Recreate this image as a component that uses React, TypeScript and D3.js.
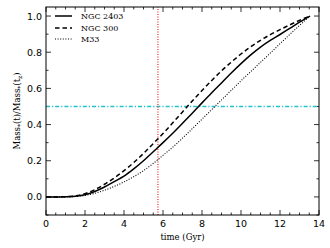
import React, { useEffect, useRef } from "react";
import * as d3 from "d3";

// time grid (Gyr)
const times = [0, 0.5, 1, 1.5, 2, 2.5, 3, 3.5, 4, 4.5, 5, 5.5, 6, 6.5, 7, 7.5, 8, 8.5, 9, 9.5, 10, 10.5, 11, 11.5, 12, 12.5, 13, 13.54];

const ngc2403 = [0, 0, 0.001, 0.004, 0.012, 0.03, 0.055, 0.085, 0.115, 0.155, 0.2, 0.25, 0.3, 0.352, 0.407, 0.463, 0.52, 0.576, 0.63, 0.685, 0.737, 0.785, 0.828, 0.865, 0.898, 0.932, 0.966, 1.0];
const ngc300 = [0, 0, 0.001, 0.006, 0.018, 0.04, 0.07, 0.105, 0.145, 0.19, 0.24, 0.295, 0.35, 0.41, 0.47, 0.53, 0.588, 0.644, 0.697, 0.745, 0.79, 0.83, 0.866, 0.897, 0.925, 0.951, 0.976, 1.0];
const m33 = [0, 0, 0, 0.002, 0.008, 0.02, 0.037, 0.058, 0.083, 0.112, 0.145, 0.185, 0.23, 0.275, 0.325, 0.377, 0.43, 0.483, 0.536, 0.589, 0.642, 0.693, 0.744, 0.795, 0.847, 0.898, 0.948, 1.0];

const seriesNames = ["NGC 2403", "NGC 300", "M33"];
const seriesDash = ["none", "4.5,3", "1,1.6"];

const xTicks = [0, 2, 4, 6, 8, 10, 12, 14];
const yTicks = [0.0, 0.2, 0.4, 0.6, 0.8, 1.0];

const tRed = 5.74;
const halfMass = 0.5;

export default function App() {
  const svgRef = useRef<SVGSVGElement>(null);

  useEffect(() => {
    if (!svgRef.current) return;
    const svg = d3.select(svgRef.current);
    svg.selectAll("*").remove();

    const margin = { top: 7, right: 11, bottom: 33, left: 46 };
    const width = 330;
    const height = 248;

    const x = d3.scaleLinear().domain([0, 14]).range([margin.left, width - margin.right]);
    const y = d3.scaleLinear().domain([-0.1, 1.05]).range([height - margin.bottom, margin.top]);

    const [x0, x1] = x.range();
    const [y0, y1] = y.range(); // y0 bottom, y1 top

    // minor / major ticks, inward on all sides
    const g = svg.append("g").attr("stroke", "#000").attr("stroke-width", 0.8);
    const xMinor = d3.range(0, 14.01, 0.5);
    const yMinor = d3.range(-0.1, 1.051, 0.1);
    xMinor.forEach((t) => {
      const major = Math.abs(t / 2 - Math.round(t / 2)) < 1e-6;
      const len = major ? 5 : 2.5;
      g.append("line").attr("x1", x(t)).attr("x2", x(t)).attr("y1", y0).attr("y2", y0 - len);
      g.append("line").attr("x1", x(t)).attr("x2", x(t)).attr("y1", y1).attr("y2", y1 + len);
    });
    yMinor.forEach((v) => {
      const major = Math.abs(v / 0.2 - Math.round(v / 0.2)) < 1e-6;
      const len = major ? 5 : 2.5;
      g.append("line").attr("x1", x0).attr("x2", x0 + len).attr("y1", y(v)).attr("y2", y(v));
      g.append("line").attr("x1", x1).attr("x2", x1 - len).attr("y1", y(v)).attr("y2", y(v));
    });

    // tick labels
    svg.append("g")
      .selectAll("text")
      .data(xTicks)
      .join("text")
      .attr("x", (d) => x(d))
      .attr("y", y0 + 12)
      .attr("text-anchor", "middle")
      .attr("font-family", "DejaVu Sans")
      .attr("font-size", 9.5)
      .text((d) => String(d));

    svg.append("g")
      .selectAll("text")
      .data(yTicks)
      .join("text")
      .attr("x", x0 - 4)
      .attr("y", (d) => y(d) + 3.5)
      .attr("text-anchor", "end")
      .attr("font-family", "DejaVu Sans")
      .attr("font-size", 9.5)
      .text((d) => d.toFixed(1));

    // axis labels
    svg.append("text")
      .attr("x", (x0 + x1) / 2)
      .attr("y", height - 8)
      .attr("text-anchor", "middle")
      .attr("font-family", "DejaVu Serif")
      .attr("font-size", 8.5)
      .text("time (Gyr)");

    const yl = svg.append("text")
      .attr("transform", `translate(20,${(y0 + y1) / 2}) rotate(-90)`)
      .attr("text-anchor", "middle")
      .attr("font-family", "DejaVu Serif")
      .attr("font-size", 8.5);
    yl.append("tspan").text("Mass");
    yl.append("tspan").attr("font-size", 6).attr("dy", 2).text("*");
    yl.append("tspan").attr("dy", -2).text("(t)/Mass");
    yl.append("tspan").attr("font-size", 6).attr("dy", 2).text("*");
    yl.append("tspan").attr("dy", -2).text("(t");
    yl.append("tspan").attr("font-size", 6).attr("dy", 2).text("z");
    yl.append("tspan").attr("dy", -2).text(")");

    // reference lines
    svg.append("line")
      .attr("x1", x0).attr("x2", x1)
      .attr("y1", y(halfMass)).attr("y2", y(halfMass))
      .attr("stroke", "#22c4cc")
      .attr("stroke-width", 1.3)
      .attr("stroke-dasharray", "4,2,1.2,2");

    svg.append("line")
      .attr("x1", x(tRed)).attr("x2", x(tRed))
      .attr("y1", y0).attr("y2", y1)
      .attr("stroke", "#ee1111")
      .attr("stroke-width", 1.1)
      .attr("stroke-dasharray", "1,1.5");

    // curves
    const all = [ngc2403, ngc300, m33];
    const line = d3.line<number>()
      .x((_, i) => x(times[i]))
      .y((d) => y(d))
      .curve(d3.curveMonotoneX);

    all.forEach((vals, i) => {
      svg.append("path")
        .datum(vals)
        .attr("fill", "none")
        .attr("stroke", "#000")
        .attr("stroke-width", i === 2 ? 1.1 : 1.5)
        .attr("stroke-dasharray", seriesDash[i])
        .attr("d", line);
    });

    // legend
    const legendY = [16, 28, 39];
    seriesNames.forEach((name, i) => {
      svg.append("line")
        .attr("x1", 55).attr("x2", 72)
        .attr("y1", legendY[i]).attr("y2", legendY[i])
        .attr("stroke", "#000")
        .attr("stroke-width", i === 2 ? 1.1 : 1.5)
        .attr("stroke-dasharray", seriesDash[i]);
      svg.append("text")
        .attr("x", 81)
        .attr("y", legendY[i] + 3)
        .attr("font-family", "DejaVu Serif")
        .attr("font-size", 8)
        .text(name);
    });

    // frame
    svg.append("rect")
      .attr("x", x0).attr("y", y1)
      .attr("width", x1 - x0).attr("height", y0 - y1)
      .attr("fill", "none")
      .attr("stroke", "#000")
      .attr("stroke-width", 1);
  }, []);

  return (
    <svg
      ref={svgRef}
      width={330}
      height={248}
      style={{ position: "absolute", left: 0, top: 0, background: "#fff" }}
    />
  );
}
